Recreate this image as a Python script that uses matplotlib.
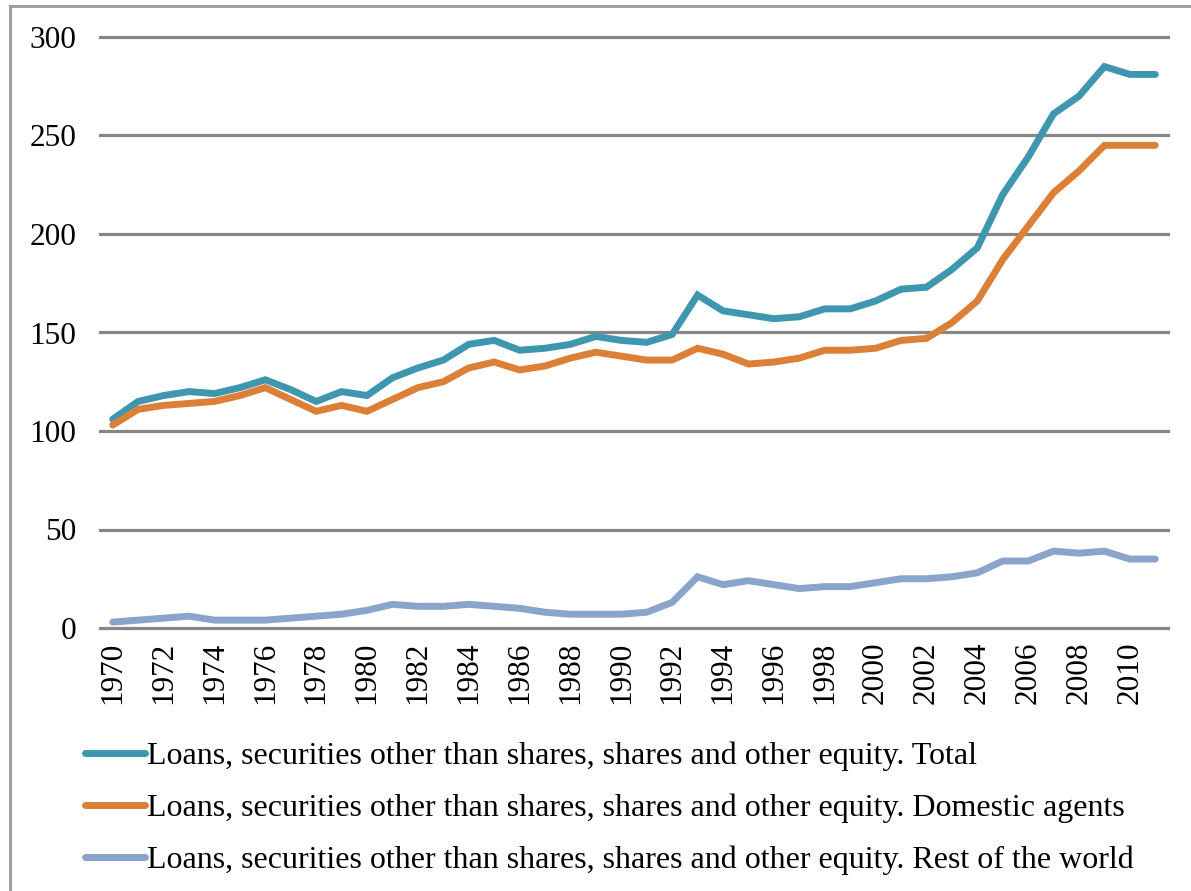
import matplotlib
matplotlib.use("Agg")
import matplotlib.pyplot as plt
from matplotlib.lines import Line2D

years = list(range(1970, 2012))

total = [106, 115, 118, 120, 119, 122, 126, 121, 115, 120, 118, 127, 132, 136,
         144, 146, 141, 142, 144, 148, 146, 145, 149, 169, 161, 159, 157, 158,
         162, 162, 166, 172, 173, 182, 193, 220, 239, 261, 270, 285, 281, 281]
domestic = [103, 111, 113, 114, 115, 118, 122, 116, 110, 113, 110, 116, 122, 125,
            132, 135, 131, 133, 137, 140, 138, 136, 136, 142, 139, 134, 135, 137,
            141, 141, 142, 146, 147, 155, 166, 187, 204, 221, 232, 245, 245, 245]
rest_world = [3, 4, 5, 6, 4, 4, 4, 5, 6, 7, 9, 12, 11, 11, 12, 11, 10, 8, 7, 7,
              7, 8, 13, 26, 22, 24, 22, 20, 21, 21, 23, 25, 25, 26, 28, 34, 34,
              39, 38, 39, 35, 35]

labels = [
    "Loans, securities other than shares, shares and other equity. Total",
    "Loans, securities other than shares, shares and other equity. Domestic agents",
    "Loans, securities other than shares, shares and other equity. Rest of the world",
]
colors = ["#3E96AF", "#DD8037", "#8BA4CB"]

plt.rcParams['font.family'] = ['Liberation Serif', 'DejaVu Serif']

fig = plt.figure(figsize=(11.91, 8.91), dpi=100)
ax = fig.add_axes([100 / 1191, 1 - 628 / 891, 1068 / 1191, 591 / 891])

for vals, c in zip([total, domestic, rest_world], colors):
    ax.plot(years, vals, color=c, lw=5, solid_capstyle='round',
            solid_joinstyle='miter', zorder=3)

ax.set_ylim(0, 300)
ax.set_xlim(1969.5, 2011.5)
ax.set_yticks(range(0, 301, 50))
ax.set_xticks(range(1970, 2011, 2))
ax.set_xticklabels([str(y) for y in range(1970, 2011, 2)], rotation=90)
ax.tick_params(axis='both', length=0, labelsize=22.5)
ax.tick_params(axis='x', pad=10)
ax.tick_params(axis='y', pad=17)
ax.grid(axis='y', color='#868686', lw=2.3, zorder=1)
for gl in ax.get_ygridlines():
    gl.set_clip_on(False)
for s in ax.spines.values():
    s.set_visible(False)

handles = [Line2D([], [], color=c, lw=5, solid_capstyle='round') for c in colors]
fig.legend(handles, labels, loc='upper left', bbox_to_anchor=(72 / 1191, 1 - 729 / 891),
           frameon=False, fontsize=23, handlelength=1.9, handletextpad=0.05,
           labelspacing=0.7, borderaxespad=0)

# outer frame (left and top edges only visible)
fig.add_artist(Line2D([10 / 1191, 10 / 1191], [0, 1 - 6 / 891], color='#999999',
                      lw=2, transform=fig.transFigure))
fig.add_artist(Line2D([10 / 1191, 1], [1 - 6 / 891, 1 - 6 / 891], color='#999999',
                      lw=2, transform=fig.transFigure))

fig.savefig("out.png", dpi=100)
